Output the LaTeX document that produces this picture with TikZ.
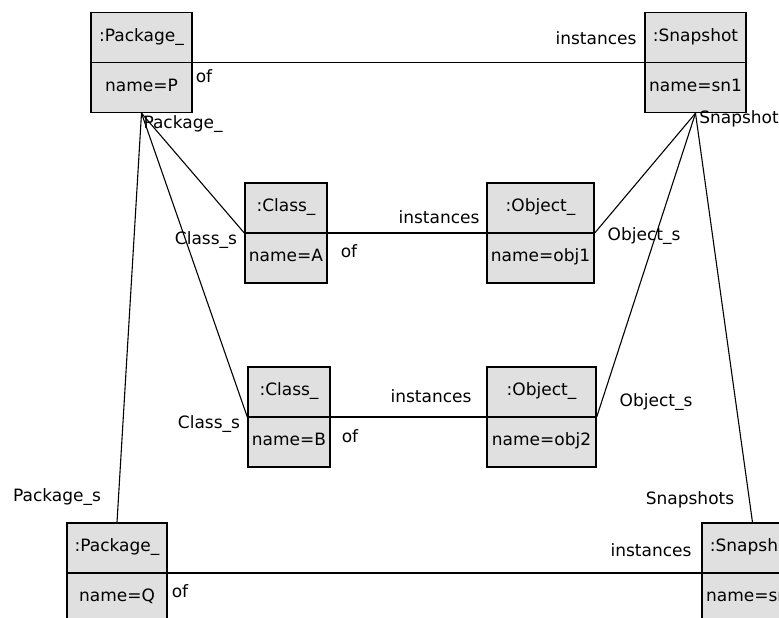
\documentclass[tikz,border=0pt]{standalone}
\usepackage{fontspec}
\setmainfont{DejaVu Sans}
\usetikzlibrary{shapes.multipart}

\tikzset{
  inst/.style={draw, line width=1.4pt, fill=black!12, rectangle split, rectangle split parts=2,
    inner xsep=2pt, inner ysep=14.4pt},
  link/.style={draw, line width=1.1pt},
  lbl/.style={inner sep=1pt}
}

\begin{document}
\begin{tikzpicture}[x=1pt, y=-1pt, every node/.style={font=\fontsize{17}{19.8}\selectfont}]
\clip (0,0) rectangle (779,618);
% instances
\node[inst, minimum width=101pt] (P) at (141.5,62.5) {\strut:Package\_ \nodepart{two}\strut name=P};
\node[inst, minimum width=101pt] (sn1) at (695.5,62.5) {\strut:Snapshot \nodepart{two}\strut name=sn1};
\node[inst, minimum width=82pt] (A) at (286,233) {\strut:Class\_ \nodepart{two}\strut name=A};
\node[inst, minimum width=107pt] (obj1) at (540.5,233) {\strut:Object\_ \nodepart{two}\strut name=obj1};
\node[inst, minimum width=82pt] (B) at (289,417) {\strut:Class\_ \nodepart{two}\strut name=B};
\node[inst, minimum width=109pt] (obj2) at (541.5,417) {\strut:Object\_ \nodepart{two}\strut name=obj2};
\node[inst, minimum width=100pt] (Q) at (117,573) {\strut:Package\_ \nodepart{two}\strut name=Q};
\node[inst, minimum width=101pt] (sn2) at (752.5,573) {\strut:Snapshot \nodepart{two}\strut name=sn2};
% links
\draw[link] (P.text split east) -- (sn1.text split west);
\draw[link] (A.text split east) -- (obj1.text split west);
\draw[link] (B.text split east) -- (obj2.text split west);
\draw[link] (Q.text split east) -- (sn2.text split west);
\draw[link] (P.south) -- (A.text split west);
\draw[link] (P.south) -- (B.text split west);
\draw[link] (P.south) -- (Q.north);
\draw[link] (sn1.south) -- (obj1.text split east);
\draw[link] (sn1.south) -- (obj2.text split east);
\draw[link] (sn1.south) -- (sn2.north);
% role names
\node[lbl] (ofP) at (204,76) {of};
\node[lbl] (insP) at (596,38) {instances};
\node[lbl] (ofA) at (349,251) {of};
\node[lbl] (insA) at (439,217) {instances};
\node[lbl] (ofB) at (350,436) {of};
\node[lbl] (insB) at (431,396) {instances};
\node[lbl] (ofQ) at (180,591) {of};
\node[lbl] (insQ) at (651,550) {instances};
\node[lbl] (pkgP) at (183,124) {Package\_};
\node[lbl] (snapP) at (739,119) {Snapshot};
\node[lbl] (clsA) at (206,240) {Class\_s};
\node[lbl] (clsB) at (209,424) {Class\_s};
\node[lbl] (objA) at (644,236) {Object\_s};
\node[lbl] (objB) at (656,402) {Object\_s};
\node[lbl] (pkgQ) at (57,497) {Package\_s};
\node[lbl] (snapQ) at (690,500) {Snapshots};
\end{tikzpicture}
\end{document}
